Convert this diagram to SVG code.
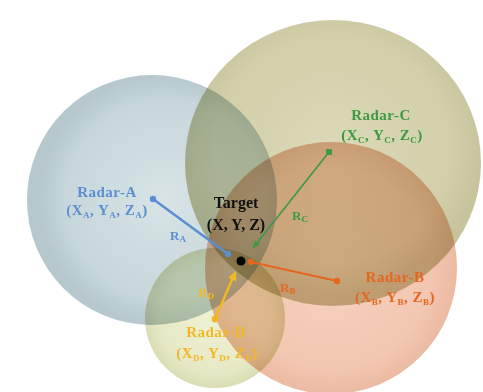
<svg xmlns="http://www.w3.org/2000/svg" width="483" height="392" viewBox="0 0 483 392">
<style>
.sph{mix-blend-mode:multiply}
text{font-family:"Liberation Serif","Times New Roman",serif;font-weight:bold}
.lbl{font-size:15px;letter-spacing:0.5px;text-anchor:middle}
.sb{font-size:9px}
.r{font-size:13px}
.ta{fill:#5b8fd2}.tb{fill:#e5671f}.tc{fill:#3d9a42}.td{fill:#f2b824}
.ln{fill:none;stroke-linecap:round}
</style>
<defs>
<radialGradient id="gA" cx="0.55" cy="0.5" r="0.5"><stop offset="0" stop-color="#d8e4e6"/><stop offset="0.8" stop-color="#c6d6da"/><stop offset="1" stop-color="#b6c8ce"/></radialGradient>
<radialGradient id="gC" cx="0.5" cy="0.45" r="0.5"><stop offset="0" stop-color="#dbd9b7"/><stop offset="0.8" stop-color="#d2cfaa"/><stop offset="1" stop-color="#c7c49d"/></radialGradient>
<radialGradient id="gB" cx="0.5" cy="0.5" r="0.5"><stop offset="0" stop-color="#f7d2c0"/><stop offset="0.8" stop-color="#f3c6b1"/><stop offset="1" stop-color="#ecbaa2"/></radialGradient>
<radialGradient id="gD" cx="0.5" cy="0.5" r="0.5"><stop offset="0" stop-color="#eff1d4"/><stop offset="0.8" stop-color="#e6e8c5"/><stop offset="1" stop-color="#dadcb3"/></radialGradient>
<marker id="dA" viewBox="0 0 8 8" refX="4" refY="4" markerWidth="8" markerHeight="8" markerUnits="userSpaceOnUse"><circle cx="4" cy="4" r="3.2" fill="#5b8fd2"/></marker>
<marker id="dB" viewBox="0 0 8 8" refX="4" refY="4" markerWidth="8" markerHeight="8" markerUnits="userSpaceOnUse"><circle cx="4" cy="4" r="3.2" fill="#e5671f"/></marker>
<marker id="sC" viewBox="0 0 6 6" refX="3" refY="3" markerWidth="6" markerHeight="6" markerUnits="userSpaceOnUse"><rect x="0" y="0" width="6" height="6" fill="#3d9a42"/></marker>
<marker id="aC" viewBox="0 0 10 10" refX="9" refY="5" markerWidth="8" markerHeight="8" markerUnits="userSpaceOnUse" orient="auto"><path d="M0,1 L10,5 L0,9 Z" fill="#3d9a42"/></marker>
<marker id="dD" viewBox="0 0 8 8" refX="4" refY="4" markerWidth="8" markerHeight="8" markerUnits="userSpaceOnUse"><circle cx="4" cy="4" r="3.4" fill="#f2b824"/></marker>
<marker id="aD" viewBox="0 0 10 10" refX="8" refY="5" markerWidth="9" markerHeight="9" markerUnits="userSpaceOnUse" orient="auto"><path d="M0,0 L10,5 L0,10 Z" fill="#f2b824"/></marker>
</defs>
<rect width="483" height="392" fill="#ffffff"/>
<g id="spheres">
<circle class="sph" cx="152" cy="200" r="125" fill="url(#gA)"/>
<ellipse class="sph" cx="333" cy="163" rx="148" ry="143" fill="url(#gC)"/>
<circle class="sph" cx="331" cy="268" r="126" fill="url(#gB)"/>
<circle class="sph" cx="215" cy="318" r="70" fill="url(#gD)"/>
</g>
<g id="connectors">
<line class="ln" x1="153" y1="199" x2="228" y2="254" stroke="#5b8fd2" stroke-width="2.5" marker-start="url(#dA)" marker-end="url(#dA)"/>
<line class="ln" x1="329" y1="152" x2="253" y2="248" stroke="#3d9a42" stroke-width="1.6" marker-start="url(#sC)" marker-end="url(#aC)"/>
<line class="ln" x1="337" y1="281" x2="251" y2="262" stroke="#e5671f" stroke-width="2" marker-start="url(#dB)" marker-end="url(#dB)"/>
<line class="ln" x1="215" y1="319" x2="235" y2="273" stroke="#f2b824" stroke-width="2.5" marker-start="url(#dD)" marker-end="url(#aD)"/>
<text class="r ta" x="170" y="240">R<tspan class="sb" dy="2">A</tspan></text>
<text class="r tc" x="292" y="220">R<tspan class="sb" dy="2">C</tspan></text>
<text class="r tb" x="280" y="292">R<tspan class="sb" dy="2">B</tspan></text>
<text class="r td" x="198" y="297">R<tspan class="sb" dy="2">D</tspan></text>
</g>
<g id="radar-A">
<text class="lbl ta" x="107" y="197">Radar-A</text>
<text class="lbl ta" x="107" y="215">(X<tspan class="sb" dy="3">A</tspan><tspan dy="-3">, Y</tspan><tspan class="sb" dy="3">A</tspan><tspan dy="-3">, Z</tspan><tspan class="sb" dy="3">A</tspan><tspan dy="-3">)</tspan></text>
</g>
<g id="radar-C">
<text class="lbl tc" x="381" y="120">Radar-C</text>
<text class="lbl tc" x="382" y="140">(X<tspan class="sb" dy="3">C</tspan><tspan dy="-3">, Y</tspan><tspan class="sb" dy="3">C</tspan><tspan dy="-3">, Z</tspan><tspan class="sb" dy="3">C</tspan><tspan dy="-3">)</tspan></text>
</g>
<g id="radar-B">
<text class="lbl tb" x="395" y="282">Radar-B</text>
<text class="lbl tb" x="395" y="302">(X<tspan class="sb" dy="3">B</tspan><tspan dy="-3">, Y</tspan><tspan class="sb" dy="3">B</tspan><tspan dy="-3">, Z</tspan><tspan class="sb" dy="3">B</tspan><tspan dy="-3">)</tspan></text>
</g>
<g id="radar-D">
<text class="lbl td" x="216" y="337">Radar-D</text>
<text class="lbl td" x="217" y="358">(X<tspan class="sb" dy="3">D</tspan><tspan dy="-3">, Y</tspan><tspan class="sb" dy="3">D</tspan><tspan dy="-3">, Z</tspan><tspan class="sb" dy="3">D</tspan><tspan dy="-3">)</tspan></text>
</g>
<g id="target">
<circle cx="241" cy="261" r="4.5" fill="#000000"/>
<text x="236" y="208" font-size="16" text-anchor="middle" fill="#111111">Target</text>
<text x="236" y="230" font-size="16" text-anchor="middle" fill="#111111">(X, Y, Z)</text>
</g>
</svg>
